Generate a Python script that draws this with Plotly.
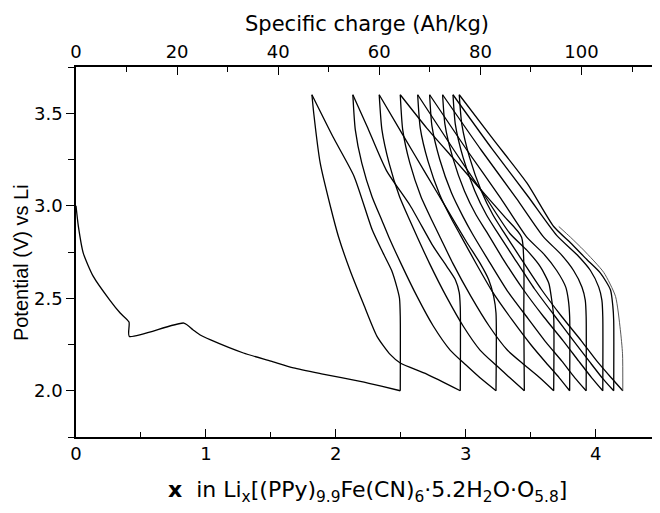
import plotly.graph_objects as go

# ---- axis scales ----
X_RANGE = [0, 4.48]
Y_RANGE = [1.75, 3.75]
AHKG_PER_X = 25.70          # specific charge per unit x (top axis)

# ---- data segments (x in Li_x..., potential V) ----
d0_x = [0.0, 0.018, 0.056, 0.133, 0.26, 0.34, 0.408, 0.41, 0.83, 0.90, 0.96, 1.032, 1.289, 1.50, 1.674, 1.90, 2.188, 2.35, 2.496]
d0_y = [3.0, 2.89, 2.744, 2.618, 2.49, 2.42, 2.371, 2.294, 2.366, 2.33, 2.30, 2.276, 2.204, 2.16, 2.123, 2.09, 2.051, 2.025, 2.0]

c1_x = [2.496, 2.496, 2.49, 2.47, 2.43, 2.36, 2.28, 2.14, 1.98, 1.816]
c1_y = [2.0, 2.40, 2.50, 2.56, 2.65, 2.75, 2.87, 3.16, 3.37, 3.6]
d1_x = [1.816, 1.83, 1.88, 1.957, 2.02, 2.11, 2.21, 2.317, 2.42, 2.496, 2.70, 2.958]
d1_y = [3.6, 3.5, 3.23, 3.0, 2.834, 2.65, 2.474, 2.294, 2.195, 2.15, 2.09, 2.0]

c2_x = [2.958, 2.958, 2.95, 2.92, 2.856, 2.75, 2.573, 2.39, 2.24, 2.131]
c2_y = [2.0, 2.45, 2.53, 2.60, 2.67, 2.78, 3.0, 3.19, 3.43, 3.6]
d2_x = [2.131, 2.15, 2.20, 2.278, 2.355, 2.406, 2.50, 2.625, 2.75, 2.88, 3.0, 3.11, 3.233]
d2_y = [3.6, 3.41, 3.23, 3.05, 2.92, 2.834, 2.69, 2.51, 2.35, 2.22, 2.14, 2.07, 2.0]

c3_x = [3.233, 3.233, 3.215, 3.177, 3.11, 3.01, 2.857, 2.696, 2.518, 2.334]
c3_y = [2.0, 2.42, 2.51, 2.60, 2.69, 2.80, 2.98, 3.17, 3.38, 3.6]
d3_x = [2.334, 2.355, 2.41, 2.49, 2.57, 2.625, 2.72, 2.85, 2.98, 3.11, 3.23, 3.34, 3.451]
d3_y = [3.6, 3.41, 3.23, 3.05, 2.92, 2.834, 2.69, 2.51, 2.35, 2.22, 2.14, 2.07, 2.0]

c4_x = [3.451, 3.447, 3.43, 3.30, 3.10, 2.90, 2.70, 2.496]
c4_y = [2.0, 2.40, 2.83, 2.94, 3.10, 3.26, 3.42, 3.6]
d4_x = [2.496, 2.515, 2.57, 2.655, 2.74, 2.80, 2.90, 3.04, 3.18, 3.32, 3.45, 3.57, 3.677]
d4_y = [3.6, 3.41, 3.23, 3.05, 2.92, 2.834, 2.69, 2.51, 2.35, 2.22, 2.14, 2.07, 2.0]

c5_x = [3.677, 3.677, 3.66, 3.64, 3.575, 3.47, 3.34, 3.15, 2.91, 2.630]
c5_y = [2.0, 2.40, 2.50, 2.58, 2.67, 2.76, 2.85, 3.05, 3.30, 3.6]
d5_x = [2.630, 2.65, 2.71, 2.80, 2.89, 2.96, 3.07, 3.21, 3.36, 3.50, 3.62, 3.72, 3.800]
d5_y = [3.6, 3.42, 3.24, 3.06, 2.93, 2.84, 2.70, 2.53, 2.38, 2.25, 2.15, 2.07, 2.0]

c6_x = [3.800, 3.800, 3.79, 3.77, 3.70, 3.60, 3.47, 3.27, 3.01, 2.722]
c6_y = [2.0, 2.40, 2.49, 2.56, 2.65, 2.74, 2.83, 3.04, 3.30, 3.6]
d6_x = [2.722, 2.74, 2.80, 2.89, 2.98, 3.05, 3.17, 3.32, 3.48, 3.62, 3.74, 3.84, 3.927]
d6_y = [3.6, 3.43, 3.25, 3.07, 2.94, 2.85, 2.71, 2.54, 2.39, 2.26, 2.16, 2.07, 2.0]

c7_x = [3.927, 3.927, 3.92, 3.895, 3.83, 3.73, 3.60, 3.39, 3.12, 2.822]
c7_y = [2.0, 2.40, 2.49, 2.56, 2.65, 2.74, 2.83, 3.04, 3.30, 3.6]
d7_x = [2.822, 2.84, 2.90, 2.99, 3.08, 3.16, 3.28, 3.44, 3.60, 3.75, 3.87, 3.97, 4.055]
d7_y = [3.6, 3.44, 3.26, 3.08, 2.95, 2.86, 2.72, 2.55, 2.40, 2.27, 2.16, 2.07, 2.0]

c8_x = [4.055, 4.055, 4.048, 4.024, 3.96, 3.857, 3.70, 3.48, 3.20, 2.902]
c8_y = [2.0, 2.40, 2.49, 2.56, 2.65, 2.735, 2.84, 3.05, 3.31, 3.6]
d8_x = [2.902, 2.92, 2.98, 3.07, 3.16, 3.24, 3.37, 3.53, 3.69, 3.83, 3.95, 4.05, 4.139]
d8_y = [3.6, 3.44, 3.26, 3.08, 2.95, 2.86, 2.72, 2.55, 2.40, 2.27, 2.16, 2.07, 2.0]

c9_x = [4.139, 4.139, 4.132, 4.114, 4.037, 3.934, 3.806, 3.677, 3.472, 3.215, 2.950]
c9_y = [2.0, 2.38, 2.46, 2.546, 2.636, 2.708, 2.80, 2.888, 3.122, 3.356, 3.6]
d9_x = [2.950, 2.97, 3.03, 3.12, 3.21, 3.29, 3.42, 3.58, 3.74, 3.89, 4.01, 4.12, 4.209]
d9_y = [3.6, 3.44, 3.26, 3.08, 2.95, 2.86, 2.72, 2.55, 2.40, 2.27, 2.16, 2.07, 2.0]

c10_x = [4.209, 4.207, 4.19, 4.153, 4.062, 3.908, 3.806, 3.716]
c10_y = [2.0, 2.20, 2.33, 2.51, 2.64, 2.76, 2.83, 2.888]

segments = [
    (d0_x, d0_y), (c1_x, c1_y), (d1_x, d1_y), (c2_x, c2_y), (d2_x, d2_y),
    (c3_x, c3_y), (d3_x, d3_y), (c4_x, c4_y), (d4_x, d4_y), (c5_x, c5_y),
    (d5_x, d5_y), (c6_x, c6_y), (d6_x, d6_y), (c7_x, c7_y), (d7_x, d7_y),
    (c8_x, c8_y), (d8_x, d8_y), (c9_x, c9_y), (d9_x, d9_y),
]

fig = go.Figure()
for sx, sy in segments:
    fig.add_trace(go.Scatter(x=sx, y=sy, mode="lines",
                             line=dict(color="black", width=1.3, shape="spline", smoothing=0.6),
                             showlegend=False, hoverinfo="skip"))
fig.add_trace(go.Scatter(x=c10_x, y=c10_y, mode="lines",
                         line=dict(color="#444444", width=0.9, shape="spline", smoothing=0.6),
                         showlegend=False, hoverinfo="skip"))
# invisible trace to carry the top / right axes
fig.add_trace(go.Scatter(x=[0], y=[2.0], xaxis="x2", yaxis="y2", mode="markers",
                         marker=dict(opacity=0), showlegend=False, hoverinfo="skip"))

HFONT = "DejaVu Sans, Liberation Sans, Arial, sans-serif"
VFONT = "Liberation Sans, Arial, sans-serif"
tickfont = dict(family=HFONT, size=18, color="black")

fig.update_layout(
    width=652, height=505,
    margin=dict(l=68, r=2, t=59, b=76),
    paper_bgcolor="white", plot_bgcolor="white",
    font=dict(family=HFONT, color="black"),
    xaxis=dict(range=X_RANGE, showgrid=False, zeroline=False, showline=True,
               linecolor="black", linewidth=1.6, ticks="inside", ticklen=8, tickwidth=1.3,
               tickcolor="black", dtick=1, tick0=0, tickfont=tickfont,
               minor=dict(ticks="inside", ticklen=5, tickwidth=1.1, dtick=0.5, tickcolor="black")),
    yaxis=dict(range=Y_RANGE, showgrid=False, zeroline=False, showline=True,
               linecolor="black", linewidth=1.6, ticks="outside", ticklen=8, tickwidth=1.3,
               tickcolor="black", dtick=0.5, tick0=2.0, tickformat=".1f", tickfont=tickfont,
               minor=dict(ticks="outside", ticklen=6, tickwidth=1.1, dtick=0.25, tickcolor="black")),
    xaxis2=dict(range=[X_RANGE[0] * AHKG_PER_X, X_RANGE[1] * AHKG_PER_X], overlaying="x",
                side="top", anchor="y2", showgrid=False, zeroline=False, showline=True,
                linecolor="black", linewidth=1.6, ticks="inside", ticklen=8, tickwidth=1.3,
                tickcolor="black", dtick=20, tick0=0, tickfont=tickfont,
                minor=dict(ticks="inside", ticklen=5, tickwidth=1.1, dtick=10, tickcolor="black")),
    yaxis2=dict(range=Y_RANGE, overlaying="y", side="right", anchor="x2", showgrid=False,
                zeroline=False, showline=True, linecolor="black", linewidth=1.6,
                ticks="inside", ticklen=6, tickwidth=1.2, tickcolor="black", dtick=0.25,
                tick0=2.0, showticklabels=False),
    annotations=[
        dict(text="Specific charge (Ah/kg)", xref="paper", yref="paper", x=0.5, y=1.116,
             xanchor="center", yanchor="middle", showarrow=False,
             font=dict(family=HFONT, size=21, color="black")),
        dict(text="Potential (V) vs Li", xref="paper", yref="paper", x=-0.0945, y=0.47,
             xanchor="center", yanchor="middle", textangle=-90, showarrow=False,
             font=dict(family=VFONT, size=20, color="black")),
        dict(text="<b>x</b>  in Li<sub>x</sub>[(PPy)<sub>9.9</sub>Fe(CN)<sub>6</sub>·5.2H<sub>2</sub>O·O<sub>5.8</sub>]",
             xref="paper", yref="paper", x=0.5, y=-0.148, xanchor="center", yanchor="middle",
             showarrow=False, font=dict(family=HFONT, size=22, color="black")),
    ],
)

fig.write_html("out.html")
